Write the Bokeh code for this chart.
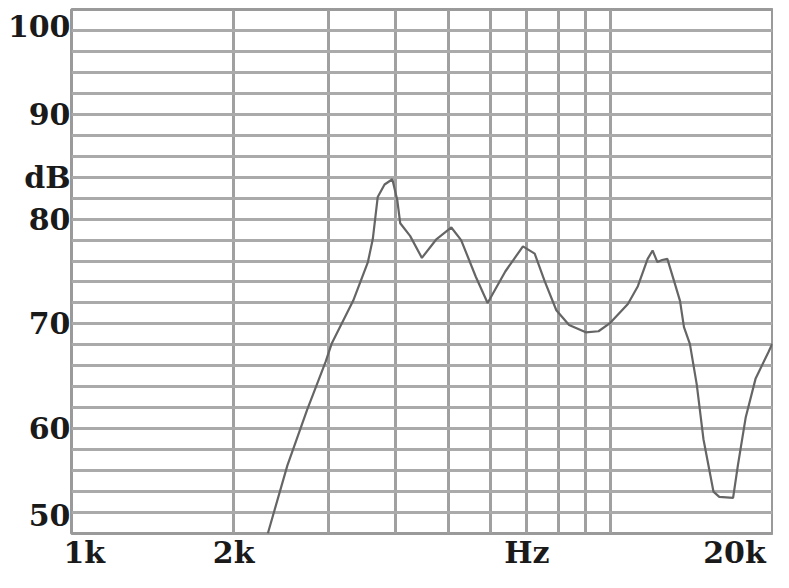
from bokeh.plotting import figure
from bokeh.models import Range1d, FixedTicker
from bokeh.embed import file_html
from bokeh.resources import INLINE

# ---- data ----
freq_hz = [2314, 2516, 2737, 2963, 3039, 3332, 3549, 3624, 3701, 3811, 3940,
           4024, 4075, 4250, 4470, 4760, 5070, 5286, 5628, 5920, 6384, 6884,
           7239, 7551, 7940, 8385, 9005, 9509, 10000, 10780, 11250, 11730,
           11980, 12230, 12480, 12760, 13130, 13470, 13700, 14050, 14470,
           14890, 15540, 15930, 16900, 17250, 17840, 18610, 19650, 19980]
spl_db = [50.0, 56.5, 61.8, 66.4, 68.1, 72.2, 75.9, 78.1, 82.1, 83.3, 83.8,
          81.8, 79.6, 78.4, 76.3, 78.1, 79.2, 78.0, 74.5, 72.0, 75.0, 77.4,
          76.7, 74.1, 71.3, 69.9, 69.2, 69.3, 70.1, 71.9, 73.6, 76.2,
          77.0, 75.9, 76.1, 76.2, 74.1, 72.2, 69.7, 68.1, 64.2,
          59.0, 54.0, 53.5, 53.4, 56.5, 61.1, 64.8, 67.3, 68.1]

x_grid_hz = [2000, 3000, 4000, 5000, 6000, 7000, 8000, 9000, 10000]
y_grid_db = list(range(50, 101, 2))

x_label_pos = [1056, 2000, 7000, 17000]
x_label_txt = ["1k", "2k", "Hz", "20k"]
y_label_pos = [51.7, 60, 70, 80, 84, 90, 98.4]
y_label_txt = ["50", "60", "70", "80", "dB", "90", "100"]

p = figure(width=773, height=572, x_axis_type="log",
           x_range=Range1d(1000, 20000), y_range=Range1d(50, 100),
           output_backend="svg", toolbar_location=None,
           min_border_left=71, min_border_right=1,
           min_border_top=9, min_border_bottom=36)
p.background_fill_color = "white"
p.border_fill_color = "white"
p.outline_line_color = "#9a9a9a"
p.outline_line_width = 3

p.xgrid.ticker = FixedTicker(ticks=x_grid_hz)
p.ygrid.ticker = FixedTicker(ticks=y_grid_db)
p.xgrid.grid_line_color = "#a0a0a0"
p.xgrid.grid_line_width = 3
p.ygrid.grid_line_color = "#aaaaaa"
p.ygrid.grid_line_width = 3

p.xaxis.ticker = FixedTicker(ticks=x_label_pos)
p.xaxis.major_label_overrides = dict(zip(x_label_pos, x_label_txt))
p.yaxis.ticker = FixedTicker(ticks=y_label_pos)
p.yaxis.major_label_overrides = dict(zip(y_label_pos, y_label_txt))

for ax in (p.xaxis[0], p.yaxis[0]):
    ax.axis_line_color = None
    ax.major_tick_line_color = None
    ax.minor_tick_line_color = None
    ax.major_tick_out = 0
    ax.major_tick_in = 0
    ax.minor_tick_out = 0
    ax.major_label_text_font = "DejaVu Serif"
    ax.major_label_text_font_style = "bold"
    ax.major_label_text_font_size = "30px"
    ax.major_label_text_color = "#1a1a1a"
p.xaxis.major_label_standoff = 1
p.yaxis.major_label_standoff = 1

p.line(freq_hz, spl_db, line_color="#656565", line_width=2.2)

open("out.html", "w").write(file_html(p, INLINE))
